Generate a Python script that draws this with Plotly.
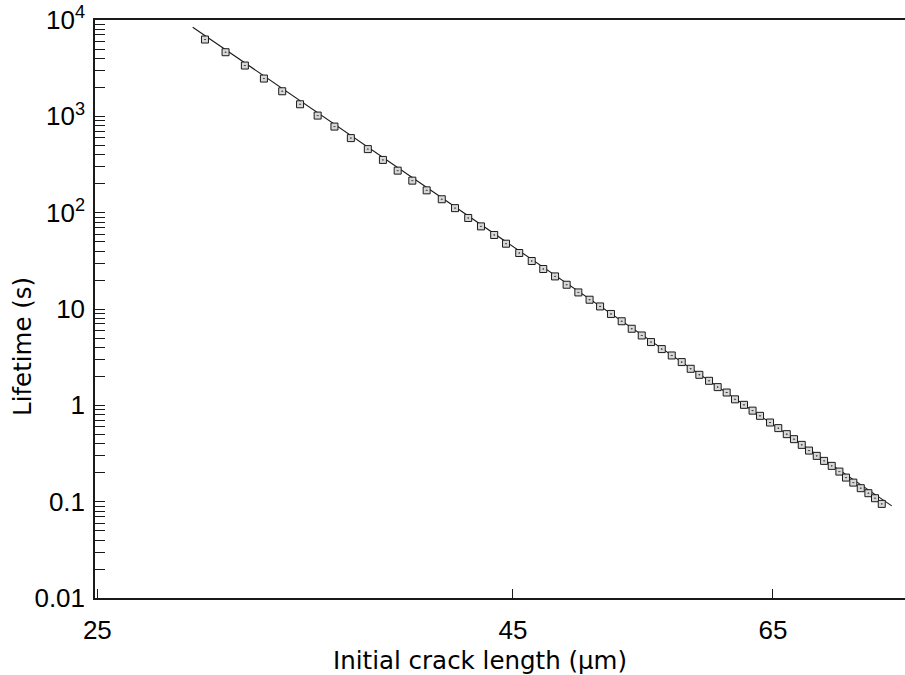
import plotly.graph_objects as go

# Measured lifetimes versus initial crack length
crack_length = [
    29.11, 29.97, 30.80, 31.64, 32.47, 33.30, 34.14, 34.96, 35.78, 36.65,
    37.44, 38.23, 39.03, 39.83, 40.69, 41.46, 42.24, 43.01, 43.82, 44.56,
    45.40, 46.21, 46.97, 47.76, 48.55, 49.36, 50.15, 50.90, 51.69, 52.48,
    53.23, 53.99, 54.70, 55.54, 56.33, 57.13, 57.86, 58.57, 59.38, 60.11,
    60.88, 61.60, 62.39, 63.15, 63.82, 64.73, 65.49, 66.28, 66.96, 67.70,
    68.40, 69.15, 69.87, 70.63, 71.40, 72.07, 72.82, 73.59, 74.39, 75.09,
    75.81,
]
lifetime = [
    6270, 4630, 3367, 2467, 1821, 1334, 1018, 782.5, 594.3, 456.8,
    352.8, 273.1, 215.0, 170.5, 137.8, 111.4, 88.09, 72.06, 58.66, 47.63,
    38.13, 31.49, 26.00, 21.79, 17.86, 14.86, 12.48, 10.63, 8.883, 7.460,
    6.235, 5.311, 4.536, 3.836, 3.292, 2.811, 2.395, 2.074, 1.797, 1.546,
    1.358, 1.154, 1.012, 0.881, 0.778, 0.663, 0.580, 0.502, 0.4455, 0.3887,
    0.3391, 0.2988, 0.2651, 0.2352, 0.2052, 0.1778, 0.1577, 0.1380, 0.1224, 0.1086,
    0.0948,
]

# Model prediction
fit_length = [28.61, 35.78, 45.40, 58.63, 76.89]
fit_lifetime = [8419, 632.5, 40.09, 2.079, 0.09033]

# Axis ticks
x_ticks = [25, 45, 65]
y_ticks = [0.01, 0.1, 1, 10, 100, 1000, 10000]
y_tick_text = ["0.01", "0.1", "1", "10", "10<sup>2</sup>", "10<sup>3</sup>", "10<sup>4</sup>"]

ink = "#1a1a1a"
tick_font = dict(family="Liberation Sans, Arial, sans-serif", size=26, color="black")
title_font = dict(family="DejaVu Sans, sans-serif", size=24.5, color="black")

fig = go.Figure()

fig.add_trace(go.Scatter(
    x=fit_length, y=fit_lifetime, mode="lines",
    line=dict(color=ink, width=1.1),
    showlegend=False, hoverinfo="skip",
))

fig.add_trace(go.Scatter(
    x=crack_length, y=lifetime, mode="markers",
    marker=dict(symbol="square-dot", size=7, color="#d8d8d8",
                line=dict(color=ink, width=1)),
    showlegend=False,
))

fig.update_xaxes(
    type="log",
    range=[1.3965, 1.8940],
    tickvals=x_ticks,
    ticktext=[str(v) for v in x_ticks],
    ticks="inside", ticklen=9, tickwidth=1, tickcolor=ink,
    showline=True, linecolor=ink, linewidth=1.5, mirror=True,
    showgrid=False, zeroline=False,
    tickfont=tick_font, ticklabelstandoff=8,
)

fig.update_yaxes(
    type="log",
    range=[-2, 4],
    tickvals=y_ticks,
    ticktext=y_tick_text,
    ticks="inside", ticklen=10, tickwidth=1, tickcolor=ink,
    minor=dict(ticks="inside", ticklen=10, tickwidth=1, tickcolor=ink, dtick="D1", showgrid=False),
    showline=True, linecolor=ink, linewidth=1.5, mirror=False,
    showgrid=False, zeroline=False,
    tickfont=tick_font, ticklabelstandoff=3,
)

fig.add_annotation(
    text="Initial crack length (µm)", xref="paper", yref="paper",
    x=(480 - 95) / 810, y=-(660 - 598) / 578, xanchor="center", yanchor="middle",
    showarrow=False, font=title_font,
)
fig.add_annotation(
    text="Lifetime (s)", xref="paper", yref="paper",
    x=(22 - 95) / 810, y=(598 - 347) / 578, xanchor="center", yanchor="middle",
    textangle=-90, showarrow=False, font=title_font,
)

fig.update_layout(
    width=905, height=675,
    margin=dict(l=95, r=0, t=20, b=77),
    paper_bgcolor="white", plot_bgcolor="white",
)

fig.write_html("out.html")
